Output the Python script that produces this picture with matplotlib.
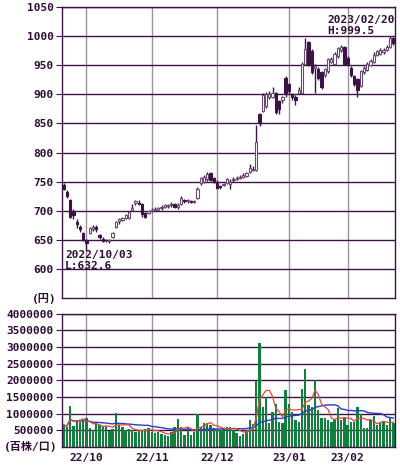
import numpy as np
import pandas as pd
import matplotlib.pyplot as plt

# 日足 (2022/09/21 - 2023/02/20)
opens = [745, 733, 718, 700, 680, 672, 662, 648, 662, 668,
         672, 658, 652, 650, 648, 655, 672, 682, 684, 687,
         688, 702, 714, 714, 712, 696, 696, 700, 701, 701,
         704, 706, 708, 710, 712, 706, 712, 718, 716, 716,
         715, 722, 747, 750, 754, 764, 756, 750, 742, 744,
         748, 746, 752, 755, 756, 758, 760, 766, 770, 770,
         866, 872, 880, 895, 896, 902, 888, 890, 928, 918,
         900, 896, 902, 903, 952, 990, 975, 945, 944, 938,
         934, 940, 955, 952, 966, 976, 981, 962, 946, 932,
         926, 914, 938, 942, 951, 956, 968, 970, 973, 977,
         982, 996]
highs = [748, 735, 720, 703, 686, 676, 664, 652, 672, 675,
         676, 660, 654, 652, 651, 663, 682, 688, 690, 694,
         698, 712, 718, 718, 714, 698, 701, 705, 706, 706,
         709, 712, 712, 715, 714, 713, 725, 720, 720, 718,
         719, 740, 758, 762, 766, 766, 758, 752, 745, 748,
         757, 755, 758, 760, 761, 764, 766, 780, 776, 848,
         868, 902, 904, 905, 912, 904, 890, 897, 932, 920,
         902, 898, 912, 955, 997, 992, 978, 952, 947, 940,
         946, 963, 964, 973, 982, 984, 983, 965, 948, 934,
         928, 942, 948, 955, 961, 972, 977, 979, 980, 985,
         999.5, 998]
lows = [735, 722, 688, 686, 670, 664, 648, 632.6, 660, 665,
        664, 652, 646, 646, 645, 653, 670, 678, 682, 685,
        686, 700, 710, 710, 690, 688, 694, 698, 699, 699,
        702, 704, 705, 707, 704, 703, 710, 713, 714, 713,
        714, 720, 745, 747, 751, 751, 747, 737, 737, 742,
        746, 738, 750, 753, 754, 756, 758, 764, 768, 768,
        846, 870, 876, 892, 893, 866, 866, 885, 896, 900,
        890, 882, 900, 902, 950, 948, 935, 902, 925, 910,
        930, 936, 953, 950, 962, 972, 950, 948, 930, 915,
        895, 912, 935, 940, 948, 954, 965, 968, 970, 975,
        980, 985]
closes = [738, 725, 690, 692, 678, 668, 650, 645, 670, 672,
          668, 655, 648, 649, 649, 661, 680, 686, 688, 692,
          697, 704, 716, 712, 694, 690, 699, 702, 703, 704,
          706, 709, 709, 712, 707, 710, 722, 716, 718, 715,
          717, 738, 756, 758, 763, 753, 749, 739, 740, 746,
          754, 750, 755, 757, 758, 762, 764, 774, 772, 818,
          850, 898, 900, 901, 902, 870, 874, 895, 900, 905,
          895, 890, 908, 952, 978, 952, 938, 948, 928, 913,
          944, 960, 961, 970, 980, 981, 952, 952, 934, 918,
          908, 940, 946, 952, 958, 968, 974, 976, 977, 982,
          997, 988]
volumes = [660000, 600000, 1230000, 630000, 810000, 750000, 800000, 870000, 570000, 510000,
           720000, 660000, 630000, 630000, 480000, 540000, 1020000, 660000, 600000, 510000,
           540000, 510000, 450000, 480000, 510000, 540000, 570000, 450000, 420000, 450000,
           400000, 360000, 330000, 450000, 600000, 830000, 600000, 360000, 600000, 360000,
           450000, 980000, 600000, 720000, 720000, 660000, 570000, 510000, 510000, 570000,
           600000, 600000, 510000, 430000, 330000, 400000, 510000, 810000, 700000, 1980000,
           3110000, 1200000, 1500000, 720000, 1050000, 1300000, 750000, 720000, 1700000, 1300000,
           1050000, 800000, 750000, 1750000, 2330000, 1250000, 1200000, 2000000, 1100000, 870000,
           870000, 800000, 750000, 800000, 1170000, 800000, 900000, 660000, 750000, 750000,
           1200000, 1000000, 560000, 560000, 800000, 930000, 660000, 720000, 750000, 660000,
           870000, 720000]

month_pos = [7, 27, 47, 69, 87]
month_labels = ['22/10', '22/11', '22/12', '23/01', '23/02']
price_ticks = [600, 650, 700, 750, 800, 850, 900, 950, 1000, 1050]
vol_ticks = [500000, 1000000, 1500000, 2000000, 2500000, 3000000, 3500000, 4000000]
last_date = '2023/02/20'
low_date = '2022/10/03'

dark = '#3c1444'
txt = '#2e0e36'
mono = ['DejaVu Sans Mono', 'Noto Sans CJK JP']

x = np.arange(len(closes))
o = np.array(opens, dtype=float)
c = np.array(closes, dtype=float)

fig = plt.figure(figsize=(4, 4.68), dpi=100)
ax = fig.add_axes([0.155, 0.3632, 0.8325, 0.6218])
ax2 = fig.add_axes([0.155, 0.0449, 0.8325, 0.2848])

for a in (ax, ax2):
    a.set_xlim(-0.5, len(closes) - 0.5)
    for p in month_pos:
        a.axvline(p, color='#9a929c', lw=1, zorder=0)
    for s in a.spines.values():
        s.set_color(dark)
        s.set_linewidth(1)
    a.tick_params(axis='y', length=4, color=dark, labelsize=8, labelcolor=txt, pad=2)
    a.tick_params(axis='x', length=0)

# velas
ax.vlines(x, lows, highs, color=dark, lw=1, zorder=2)
up = c >= o
body_low = np.minimum(o, c)
body_h = np.abs(c - o)
ax.bar(x[up], body_h[up], bottom=body_low[up], width=0.7, color='white',
       edgecolor='#6a4a70', lw=0.8, zorder=3)
ax.bar(x[~up], body_h[~up], bottom=body_low[~up], width=0.7, color=dark,
       edgecolor=dark, lw=0.8, zorder=3)

ax.set_ylim(550, 1050)
ax.set_yticks(price_ticks)
for t in price_ticks:
    ax.axhline(t, color=dark, lw=1, zorder=1)
ax.set_xticks([])
for lab in ax.get_yticklabels():
    lab.set_family(mono)
    lab.set_fontweight('bold')

ax.text(0.796, 0.972, f'{last_date}\nH:{max(highs)}', transform=ax.transAxes,
        ha='left', va='top', fontsize=8, fontweight='bold', family=mono,
        color=txt, linespacing=1.1)
ax.text(0.009, 0.165, f'{low_date}\nL:{min(lows)}', transform=ax.transAxes,
        ha='left', va='top', fontsize=8, fontweight='bold', family=mono,
        color=txt, linespacing=1.1)
fig.text(0.14, 0.363, '(円)', ha='right', va='center', fontsize=8,
         fontweight='bold', family=mono, color=txt)

#出来高
vol = pd.Series(volumes, dtype=float)
ax2.bar(x, volumes, width=0.72, color='#12803c', zorder=2)
ax2.plot(x, vol.rolling(25, min_periods=1).mean(), color='#2a3cc8', lw=1, zorder=3)
ax2.plot(x, vol.rolling(5, min_periods=1).mean(), color='#e04a3c', lw=0.9, zorder=4)
ax2.set_ylim(0, 4000000)
ax2.set_yticks(vol_ticks)
ax2.set_yticklabels([str(v) for v in vol_ticks])
for t in vol_ticks:
    ax2.axhline(t, color=dark, lw=1, zorder=1)
ax2.set_xticks(month_pos)
ax2.set_xticklabels(month_labels)
ax2.tick_params(axis='x', labelsize=8, labelcolor=txt, pad=4)
for lab in ax2.get_yticklabels() + ax2.get_xticklabels():
    lab.set_family(mono)
    lab.set_fontweight('bold')
fig.text(0.145, 0.045, '(百株/口)', ha='right', va='center', fontsize=8,
         fontweight='bold', family=mono, color=txt)

plt.savefig('out.png', dpi=100)
